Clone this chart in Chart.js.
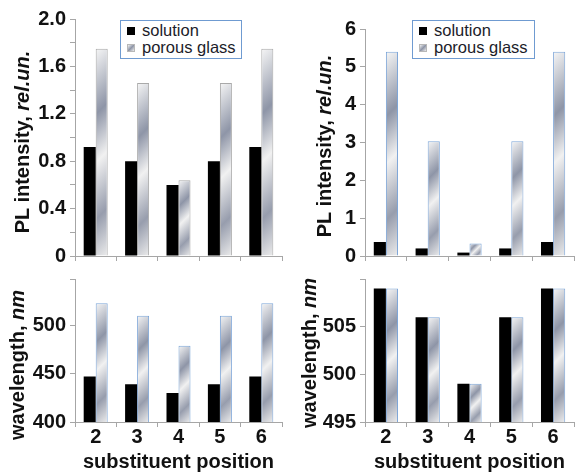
<!DOCTYPE html>
<html>
<head>
<meta charset="utf-8">
<script src="https://cdn.jsdelivr.net/npm/chart.js@4.4.1/dist/chart.umd.min.js"></script>
<style>
  body { margin: 0; background: #fff; }
  #wrap { position: relative; width: 576px; height: 472px; overflow: hidden; font-family: "Liberation Sans", Arial, sans-serif; }
  canvas { position: absolute; }
  .ytitle { position: absolute; white-space: nowrap; font-weight: bold; font-size: 20px; color: #111;
            transform: translate(-50%, -50%) rotate(-90deg); }
  .legend { position: absolute; box-sizing: border-box; border: 1px solid #6f9bd1; background: #fff;
            font-size: 16.5px; color: #1c1c2a; padding-top: 1px; }
  .legend .row { display: flex; align-items: center; height: 17px; padding-left: 6px; }
  .legend .sw { width: 8px; height: 8px; margin-right: 7px; box-sizing: border-box; }
</style>
</head>
<body>
<div id="wrap">
  <canvas id="plLeft" width="290" height="270" style="left:0;top:0"></canvas>
  <canvas id="plRight" width="286" height="270" style="left:290px;top:0"></canvas>
  <canvas id="wlLeft" width="290" height="207" style="left:0;top:265px"></canvas>
  <canvas id="wlRight" width="286" height="207" style="left:290px;top:265px"></canvas>

  <div class="ytitle" style="left:22px;top:142px">PL intensity, <i>rel.un.</i></div>
  <div class="ytitle" style="left:324px;top:146px">PL intensity, <i>rel.un.</i></div>
  <div class="ytitle" style="left:17px;top:365px">wavelength, <i>nm</i></div>
  <div class="ytitle" style="left:309px;top:353px">wavelength, <i>nm</i></div>

  <div class="legend" id="legLeft" style="left:120px;top:20px;width:122px;height:39px"></div>
  <div class="legend" id="legRight" style="left:412px;top:20px;width:123px;height:39px"></div>
</div>

<script>
// --- data ---
const positions = ['2', '3', '4', '5', '6'];
const seriesNames = ['solution', 'porous glass'];
const xTitle = 'substituent position';

const plLeftSolution = [0.92, 0.80, 0.60, 0.80, 0.92];
const plLeftGlass = [1.75, 1.46, 0.64, 1.46, 1.75];
const plRightSolution = [0.37, 0.20, 0.09, 0.20, 0.37];
const plRightGlass = [5.40, 3.03, 0.33, 3.03, 5.40];
const wlLeftSolution = [447, 439, 430, 439, 447];
const wlLeftGlass = [523, 510, 479, 510, 523];
const wlRightSolution = [509, 506, 499, 506, 509];
const wlRightGlass = [509, 506, 499, 506, 509];

// tick marks (labelled ones listed separately)
const plLeftTicks = [0, 0.2, 0.4, 0.6, 0.8, 1.0, 1.2, 1.4, 1.6, 1.8, 2.0];
const plLeftLabels = ['0', '0.4', '0.8', '1.2', '1.6', '2.0'];
const plRightTicks = [0, 1, 2, 3, 4, 5, 6];
const plRightLabels = ['0', '1', '2', '3', '4', '5', '6'];
const wlLeftTicks = [400, 450, 500, 548];
const wlLeftLabels = ['400', '450', '500'];
const wlRightTicks = [495, 500, 505, 510];
const wlRightLabels = ['495', '500', '505'];

const AXIS = '#a6a6a6';
Chart.defaults.font.family = '"Liberation Sans", Arial, sans-serif';
Chart.defaults.color = '#111';

// metallic diagonal fill for the porous glass bars
function glassFill(context) {
    const chart = context.chart;
    if (!chart.chartArea || context.raw == null) return '#c8ccd4';
    const xs = chart.scales.x, ys = chart.scales.y;
    const top = ys.getPixelForValue(context.raw);
    const bottom = ys.getPixelForValue(ys.min);
    const left = xs.getPixelForValue(context.dataIndex);
    const d = (12 + Math.max(bottom - top, 1)) / 2;
    const g = chart.ctx.createLinearGradient(left, top, left + d, top + d);
    g.addColorStop(0, '#f6f6f6');
    g.addColorStop(0.3, '#8e95a7');
    g.addColorStop(0.52, '#f1f1f1');
    g.addColorStop(0.78, '#979dad');
    g.addColorStop(1, '#ececec');
    return g;
}

function tickText(labels, digits) {
    return (v) => {
        const s = digits ? (v === 0 ? '0' : v.toFixed(digits)) : String(v);
        return labels.includes(s) ? s : '';
    };
}

function makePanel(id, solution, glass, cfg) {
    const ctx = document.getElementById(id).getContext('2d');
    return new Chart(ctx, {
        type: 'bar',
        data: {
            labels: positions,
            datasets: [
                { label: seriesNames[0], data: solution, backgroundColor: '#000', borderWidth: 0 },
                { label: seriesNames[1], data: glass, backgroundColor: glassFill, borderColor: cfg.edge, borderWidth: 1 }
            ]
        },
        options: {
            responsive: false,
            animation: false,
            events: [],
            datasets: { bar: { categoryPercentage: 0.58, barPercentage: 1 } },
            layout: { padding: cfg.padding },
            plugins: { legend: { display: false }, tooltip: { enabled: false } },
            scales: {
                x: {
                    offset: true,
                    grid: { offset: true, drawOnChartArea: false, color: AXIS, tickLength: 5 },
                    border: { color: AXIS },
                    ticks: { display: cfg.showX, padding: 0, font: { size: 20, weight: 'bold', lineHeight: 1 } },
                    title: { display: cfg.showX, text: xTitle, padding: 0, font: { size: 20, weight: 'bold', lineHeight: 1 } },
                    afterFit: (s) => { s.height = cfg.xHeight; }
                },
                y: {
                    min: cfg.ticks[0], max: cfg.ticks[cfg.ticks.length - 1],
                    grid: { drawOnChartArea: false, color: AXIS, tickLength: 5 },
                    border: { color: AXIS },
                    afterBuildTicks: (s) => { s.ticks = cfg.ticks.map(v => ({ value: v })); },
                    ticks: { autoSkip: false, padding: 4, callback: cfg.label,
                             font: { size: 20, weight: 'bold', lineHeight: 1 } },
                    afterFit: (s) => { s.width = 75; }
                }
            }
        }
    });
}

makePanel('plLeft', plLeftSolution, plLeftGlass, {
    edge: '#a9a9a9', padding: { top: 19, right: 8, left: 0, bottom: 0 }, xHeight: 7, showX: false,
    ticks: plLeftTicks, label: tickText(plLeftLabels, 1)
});
makePanel('plRight', plRightSolution, plRightGlass, {
    edge: '#7ea6d8', padding: { top: 29, right: 2, left: 0, bottom: 0 }, xHeight: 6, showX: false,
    ticks: plRightTicks, label: tickText(plRightLabels, 0)
});
makePanel('wlLeft', wlLeftSolution, wlLeftGlass, {
    edge: '#7ea6d8', padding: { top: 9, right: 8, left: 0, bottom: 0 }, xHeight: 50, showX: true,
    ticks: wlLeftTicks, label: tickText(wlLeftLabels, 0)
});
makePanel('wlRight', wlRightSolution, wlRightGlass, {
    edge: '#7ea6d8', padding: { top: 8, right: 2, left: 0, bottom: 0 }, xHeight: 50, showX: true,
    ticks: wlRightTicks, label: tickText(wlRightLabels, 0)
});

// --- HTML legends ---
function buildLegend(id) {
    const box = document.getElementById(id);
    seriesNames.forEach((name, i) => {
        const row = document.createElement('div');
        row.className = 'row';
        const sw = document.createElement('span');
        sw.className = 'sw';
        sw.style.background = i === 0 ? '#000' : 'linear-gradient(135deg, #f2f2f2, #8e95a7 50%, #eeeeee)';
        if (i === 1) sw.style.border = '1px solid #b8b8b8';
        const txt = document.createElement('span');
        txt.textContent = name;
        row.appendChild(sw);
        row.appendChild(txt);
        box.appendChild(row);
    });
}
buildLegend('legLeft');
buildLegend('legRight');
</script>
</body>
</html>
